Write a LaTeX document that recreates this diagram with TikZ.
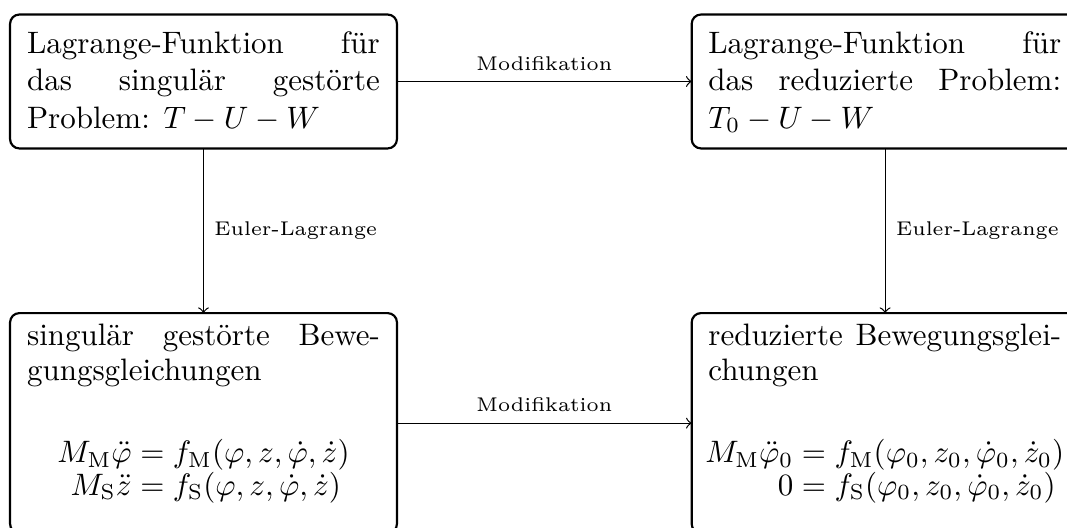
\documentclass[tikz,border=0pt]{standalone}
\usepackage{amsmath}
\begin{document}
\begin{tikzpicture}[
  boxstyle/.style={draw, line width=0.7pt, rounded corners=3pt, minimum width=124.8pt, inner sep=0pt, outer sep=0pt},
  topbox/.style={boxstyle, minimum height=43.2pt},
  botbox/.style={boxstyle, minimum height=71pt},
  ln/.style={anchor=base west, inner sep=0pt, outer sep=0pt},
  eqn/.style={anchor=base, inner sep=0pt, outer sep=0pt},
  conn/.style={->, line width=0.4pt},
  lbl/.style={font=\fontsize{6.4pt}{7.7pt}\selectfont}
]
\useasboundingbox (0,0) rectangle (344.2pt,-170.3pt);
% boxes
\node[topbox] (tl) at (65.65pt,-26.29pt) {};
\node[topbox] (tr) at (285.53pt,-26.29pt) {};
\node[botbox] (bl) at (65.65pt,-136.5pt) {};
\node[botbox] (br) at (285.53pt,-136.5pt) {};
% top left text
\node[ln] (tl1) at (8.73pt,-17.2pt) {\hbox to 4cm{Lagrange-Funktion\hfill für}};
\node[ln] (tl2) at (8.73pt,-29.3pt) {\hbox to 4cm{das\hfill singulär\hfill gestörte}};
\node[ln] (tl3) at (8.73pt,-41.4pt) {Problem: $T-U-W$};
% top right text
\node[ln] (tr1) at (228.5pt,-17.2pt) {\hbox to 4cm{Lagrange-Funktion\hfill für}};
\node[ln] (tr2) at (228.5pt,-29.3pt) {\hbox to 4cm{das\hfill reduzierte\hfill Problem:}};
\node[ln] (tr3) at (228.5pt,-41.4pt) {$T_0-U-W$};
% bottom left text
\node[ln] (bl1) at (8.73pt,-111.5pt) {\hbox to 4cm{singulär\hfill gestörte\hfill Bewe-}};
\node[ln] (bl2) at (8.73pt,-122.6pt) {gungsgleichungen};
\node[eqn] (bleq) at (65.65pt,-149.2pt) {$\begin{aligned}[t]
  M_{\mathrm{M}}\ddot{\varphi} &= f_{\mathrm{M}}(\varphi,z,\dot{\varphi},\dot{z})\\[-4.5pt]
  M_{\mathrm{S}}\ddot{z} &= f_{\mathrm{S}}(\varphi,z,\dot{\varphi},\dot{z})
\end{aligned}$};
% bottom right text
\node[ln] (br1) at (228.5pt,-111.5pt) {\hbox to 4cm{reduzierte\hfill Bewegungsglei-}};
\node[ln] (br2) at (228.5pt,-122.6pt) {chungen};
\node[eqn] (breq) at (285.4pt,-149.2pt) {$\begin{aligned}[t]
  M_{\mathrm{M}}\ddot{\varphi}_0 &= f_{\mathrm{M}}(\varphi_0,z_0,\dot{\varphi}_0,\dot{z}_0)\\[-4.5pt]
  0 &= f_{\mathrm{S}}(\varphi_0,z_0,\dot{\varphi}_0,\dot{z}_0)
\end{aligned}$};
% connectors
\draw[conn] (tl) -- node[lbl, midway, above] (m1) {Modifikation} (tr);
\draw[conn] (bl) -- node[lbl, midway, above] (m2) {Modifikation} (br);
\draw[conn] (tl) -- node[lbl, midway, right] (e1) {Euler-Lagrange} (bl);
\draw[conn] (tr) -- node[lbl, midway, right] (e2) {Euler-Lagrange} (br);
\end{tikzpicture}
\end{document}
